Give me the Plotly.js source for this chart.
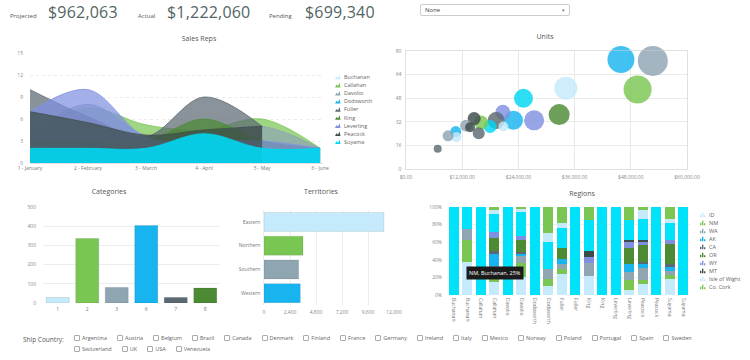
<!DOCTYPE html>
<html><head><meta charset="utf-8">
<script src="https://cdn.plot.ly/plotly-3.0.1.min.js"></script>
<style>
body{margin:0;width:750px;height:360px;overflow:hidden;background:#fff;font-family:"Open Sans",sans-serif;position:relative;color:#555;}
.c{position:absolute;}
.kl{position:absolute;font-size:6px;color:#555;top:12px;}
.kv{position:absolute;font-size:16px;color:#536464;top:1px;letter-spacing:0.2px;}
#sel{position:absolute;left:420px;top:4px;width:144px;height:10px;border:1px solid #ccc;border-radius:2px;font-size:6px;line-height:10px;padding-left:4px;color:#444;}
#sel span{position:absolute;right:4px;top:0;font-size:5px;color:#777;}
#ship{position:absolute;left:23px;top:335px;font-size:6.5px;color:#555;}
#boxes{position:absolute;left:74px;top:334px;width:630px;display:flex;flex-wrap:wrap;row-gap:3px;}
.cb{display:flex;align-items:center;font-size:5.5px;color:#666;margin-right:10px;height:8px;}
.cb i{display:inline-block;width:4px;height:4px;border:1px solid #aaa;border-radius:1px;margin-right:2px;}
</style></head><body>
<div id="kpi"></div>
<div id="sel">None<span>&#9662;</span></div>
<div id="sales" class="c" style="left:0;top:30px;width:380px;height:150px"></div>
<div id="units" class="c" style="left:380px;top:30px;width:370px;height:160px"></div>
<div id="cats" class="c" style="left:0;top:185px;width:220px;height:135px"></div>
<div id="terr" class="c" style="left:220px;top:185px;width:200px;height:135px"></div>
<div id="regions" class="c" style="left:420px;top:185px;width:330px;height:175px"></div>
<div id="ship">Ship Country:</div>
<div id="boxes"></div>
<script>
// ---------- data ----------
const kpiLabels = ['Projected','Actual','Pending'];
const kpiValues = ['$962,063','$1,222,060','$699,340'];

const months = ['1 - January','2 - February','3 - March','4 - April','5 - May','6 - June'];
const reps = ['Buchanan','Callahan','Davolio','Dodsworth','Fuller','King','Leverling','Peacock','Suyama'];
const salesBuchanan  = [3, 3, 2.5, 3, 2.5, 2];
const salesCallahan  = [4, 7.5, 5.2, 4.5, 6, 2];
const salesDavolio   = [4, 8, 3.8, 4, 5, 2];
const salesDodsworth = [2, 2.5, 2, 3.5, 2, 2];
const salesFuller    = [10, 6.3, 3.6, 9, 5, null];
const salesKing      = [3, 3, 3, 6, 3, 2];
const salesLeverling = [7, 10, 3.5, 3, 3, 2];
const salesPeacock   = [7, 5.5, 3.8, 4.5, 5, null];
const salesSuyama    = [2, 2, 2, 4, 2, 2];

const unitsSales = [52700, 45900, 49450, 34130, 25080, 32700, 27360, 22950, 20670, 19240, 17960, 16030, 14550, 15530, 12830, 13680, 10620, 10760, 8980, 20800, 6770];
const unitsQty   = [73.3, 74.2, 53.9, 54.8, 47.9, 36.9, 33.0, 33.0, 38.4, 32.8, 28.8, 31.5, 34.2, 24.3, 29.4, 28.3, 25.4, 21.6, 22.5, 28.8, 13.7];
const unitsSize  = [30, 27, 28, 23, 19, 21, 20, 19, 15, 17, 13, 14, 13, 12, 12, 10, 11, 10, 11, 10, 8];
const unitsColorIdx = [2, 3, 1, 0, 8, 5, 6, 3, 6, 4, 8, 1, 7, 4, 2, 7, 3, 0, 2, 0, 4];

const catLabels = ['1','2','3','6','7','8'];
const catValues = [29, 336, 81, 403, 29, 78];

const terrNames = ['Eastern','Northern','Southern','Western'];
const terrValues = [11080, 3600, 3200, 3350];

const regionBars = ['Buchanan','Buchanan','Callahan','Callahan','Davolio','Davolio','Dodsworth','Dodsworth','Fuller','Fuller','King','King','Leverling','Leverling','Peacock','Peacock','Suyama','Suyama'];
const regionNames = ['ID','NM','WA','AK','CA','OR','WY','MT','Isle of Wight','Co. Cork'];
const regID    = [0,37,0,15,0,20,0,10,24,0,22,0,0,6,12,0,18,0];
const regNM    = [0,25,0,7,0,16,0,8,5,0,0,0,0,11,5,0,5,0];
const regWA    = [0,13,0,11,0,8,0,12,6,0,14,0,0,9,14,0,4,0];
const regAK    = [0,0,0,14,0,3,0,0,6,0,0,0,0,9,4,0,5,0];
const regCA    = [0,0,0,3,0,2,0,0,0,0,0,0,0,0,2,0,3,0];
const regOR    = [0,0,0,15,0,13,0,0,12,0,0,0,0,18,20,0,23,0];
const regWY    = [0,0,0,7,0,5,0,0,0,0,7,0,0,7,3,0,5,0];
const regMT    = [0,0,0,0,0,0,0,0,0,0,7,0,0,2,3,0,0,0];
const regOther = [100,25,100,20,100,27,100,30,23,100,35,100,100,23,23,100,19,100];
const regIoW   = [0,0,0,5,0,4,0,10,6,0,0,0,0,0,11,0,4,0];
const regCork  = [0,0,0,3,0,2,0,30,18,0,15,0,0,15,3,0,14,0];
const tooltipText = 'NM, Buchanan, 25%';

const countries = ['Argentina','Austria','Belgium','Brazil','Canada','Denmark','Finland','France','Germany','Ireland','Italy','Mexico','Norway','Poland','Portugal','Spain','Sweden','Switzerland','UK','USA','Venezuela'];

// ---------- style ----------
const palette = ['#c4eafb','#7ac653','#8fa5b2','#18b4ef','#5b6a72','#4c8b33','#8090e0','#3d4c4a','#00d7f2'];
const cyanOther = '#00e1fa';
const FONT = 'Open Sans, sans-serif';
function rgba(hex,a){const n=parseInt(hex.slice(1),16);return `rgba(${n>>16},${(n>>8)&255},${n&255},${a})`;}
function box(W,H,l,t,w,h){return {W,H,l,t,w,h,px:x=>(x-l)/w,py:y=>(t+h-y)/h,margin:{l,t,r:W-l-w,b:H-t-h,pad:0}};}
function base(b,title,tx,ty){
  return {width:b.W,height:b.H,margin:b.margin,paper_bgcolor:'rgba(0,0,0,0)',plot_bgcolor:'rgba(0,0,0,0)',
    showlegend:false,font:{family:FONT,size:5,color:'#888'},
    title:{text:title,font:{family:FONT,size:7,color:'#555'},xref:'container',x:tx/b.W,xanchor:'center',yref:'container',y:1-ty/b.H,yanchor:'middle'},
    annotations:[],shapes:[]};
}
const cfg={staticPlot:true,displayModeBar:false};

// KPI header
const kpiPos=[[10,48],[138,167],[269,305]];
document.getElementById('kpi').innerHTML = kpiLabels.map((l,i)=>
  `<div class="kl" style="left:${kpiPos[i][0]}px">${l}</div><div class="kv" style="left:${kpiPos[i][1]}px">${kpiValues[i]}</div>`).join('');

// ---------- Sales Reps ----------
(function(){
  const b=box(380,150,30,23,293,110);
  const series=[salesBuchanan,salesCallahan,salesDavolio,salesDodsworth,salesFuller,salesKing,salesLeverling,salesPeacock,salesSuyama];
  const traces=series.map((s,i)=>({x:[0,1,2,3,4,5],y:s,type:'scatter',mode:'lines',fill:'tozeroy',
    line:{shape:'spline',smoothing:1,color:palette[i],width:0.8},fillcolor:rgba(palette[i],i===8?0.9:0.72),name:reps[i]}));
  const L=base(b,'Sales Reps',199,9);
  L.xaxis={range:[0,5.05],tickvals:[0,1,2,3,4,5],ticktext:months,showgrid:false,zeroline:false,showline:true,linecolor:'#ccc',linewidth:0.6,ticks:'',tickfont:{size:5,color:'#777'}};
  L.yaxis={range:[0,15],dtick:3,gridcolor:'#e6e6e6',griddash:'dot',gridwidth:0.8,zeroline:false,showline:false,ticks:'',ticklabelstandoff:6,tickfont:{size:5,color:'#888'}};
  reps.forEach((r,i)=>{
    const cy=47+8.1*i;
    L.annotations.push({xref:'paper',yref:'paper',x:b.px(341.5),y:b.py(cy),xanchor:'left',yanchor:'middle',text:r,showarrow:false,font:{size:5.5,color:'#666'}});
    L.shapes.push({type:'path',xref:'paper',yref:'paper',line:{width:0},fillcolor:palette[i],
      path:`M ${b.px(335)} ${b.py(cy+2.3)} L ${b.px(336.5)} ${b.py(cy-0.5)} L ${b.px(338)} ${b.py(cy+1)} L ${b.px(339.5)} ${b.py(cy-2.3)} L ${b.px(340.5)} ${b.py(cy+2.3)} Z`});
  });
  Plotly.newPlot('sales',traces,L,cfg);
})();

// ---------- Units ----------
(function(){
  const b=box(370,160,26,21,281,118);
  const L=base(b,'Units',165,7);
  L.xaxis={range:[0,60000],dtick:12000,tickformat:'$,.2f',gridcolor:'#e2e2e2',gridwidth:0.8,zeroline:false,showline:true,linecolor:'#ccc',linewidth:0.6,mirror:true,ticks:'',ticklabelstandoff:3,tickfont:{size:5,color:'#888'}};
  L.yaxis={range:[0,80],dtick:16,gridcolor:'#e6e6e6',gridwidth:0.8,zeroline:false,showline:true,linecolor:'#ccc',linewidth:0.6,mirror:true,ticks:'',ticklabelstandoff:3,tickfont:{size:5,color:'#888'}};
  Plotly.newPlot('units',[{x:unitsSales,y:unitsQty,type:'scatter',mode:'markers',cliponaxis:false,
    marker:{size:unitsSize,sizemode:'diameter',color:unitsColorIdx.map(i=>palette[i]),opacity:0.82,line:{width:0}}}],L,cfg);
})();

// ---------- Categories ----------
(function(){
  const b=box(220,135,43,22,177,96);
  const L=base(b,'Categories',109,7);
  L.bargap=0.22;
  L.xaxis={type:'category',showgrid:false,zeroline:false,showline:false,ticks:'',ticklabelstandoff:2,tickfont:{size:5,color:'#777'}};
  L.yaxis={range:[0,500],dtick:100,gridcolor:'#e8e8e8',gridwidth:0.8,zeroline:false,ticks:'',ticklabelstandoff:6,tickfont:{size:5,color:'#888'}};
  Plotly.newPlot('cats',[{x:catLabels,y:catValues,type:'bar',marker:{color:catLabels.map((c,i)=>palette[i]),line:{color:'rgba(0,0,0,0.18)',width:0.6}}}],L,cfg);
})();

// ---------- Territories ----------
(function(){
  const b=box(200,135,44,25,130,95);
  const L=base(b,'Territories',101,7);
  L.bargap=0.2;
  L.xaxis={range:[0,12000],dtick:2400,tickformat:',',gridcolor:'#e8e8e8',gridwidth:0.8,zeroline:false,showline:false,ticks:'',ticklabelstandoff:3,tickfont:{size:5,color:'#888'}};
  L.yaxis={type:'category',autorange:'reversed',showgrid:false,zeroline:false,showline:true,linecolor:'#ddd',linewidth:0.6,ticks:'',ticklabelstandoff:2,tickfont:{size:5,color:'#777'}};
  Plotly.newPlot('terr',[{y:terrNames,x:terrValues,type:'bar',orientation:'h',marker:{color:terrNames.map((c,i)=>palette[i]),line:{color:'rgba(0,0,0,0.15)',width:0.6}}}],L,cfg);
})();

// ---------- Regions ----------
(function(){
  const b=box(330,175,27,22,243,88);
  const L=base(b,'Regions',162,9);
  L.barmode='stack'; L.bargap=0.25;
  const idx=regionBars.map((n,i)=>i);
  L.xaxis={range:[-0.5,17.5],tickvals:idx,ticktext:regionBars,tickangle:90,showgrid:false,zeroline:false,showline:false,ticks:'',ticklabelstandoff:2,tickfont:{size:5,color:'#777'}};
  L.yaxis={range:[0,100],dtick:20,ticksuffix:'%',gridcolor:'#eaeaea',gridwidth:0.8,zeroline:false,ticks:'',ticklabelstandoff:4,tickfont:{size:5,color:'#888'}};
  const ser=[regID,regNM,regWA,regAK,regCA,regOR,regWY,regMT,regOther,regIoW,regCork];
  const cols=[palette[0],palette[1],palette[2],palette[3],palette[4],palette[5],palette[6],palette[7],cyanOther,palette[0],palette[1]];
  const traces=ser.map((s,i)=>({x:idx,y:s,type:'bar',marker:{color:cols[i],line:{width:0}}}));
  const legCols=[palette[0],palette[1],palette[2],palette[3],palette[4],palette[5],palette[6],palette[7],palette[0],palette[1]];
  regionNames.forEach((r,i)=>{
    const cy=30+8*i;
    L.annotations.push({xref:'paper',yref:'paper',x:b.px(287),y:b.py(cy),xanchor:'left',yanchor:'middle',text:r,showarrow:false,font:{size:5.5,color:'#666'}});
    [[280,2],[282,3.5],[284,1.5]].forEach(([x,hh])=>{
      L.shapes.push({type:'rect',xref:'paper',yref:'paper',x0:b.px(x),x1:b.px(x+1.4),y0:b.py(cy+2.3),y1:b.py(cy+2.3-hh*1.3),line:{width:0},fillcolor:legCols[i]});
    });
  });
  L.annotations.push({xref:'paper',yref:'paper',x:b.px(75),y:b.py(88),xanchor:'center',yanchor:'middle',text:tooltipText,showarrow:false,
    bgcolor:'#1b1b1b',borderpad:2,font:{size:5.5,color:'#fff'}});
  Plotly.newPlot('regions',traces,L,cfg);
})();

// ---------- Ship country checkboxes ----------
document.getElementById('boxes').innerHTML = countries.map(c=>`<div class="cb"><i></i>${c}</div>`).join('');
</script>
</body></html>
